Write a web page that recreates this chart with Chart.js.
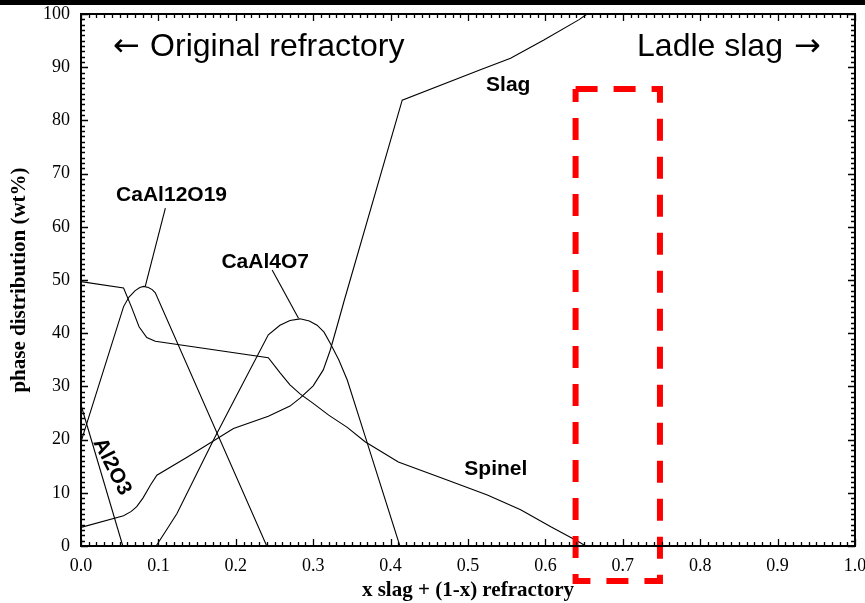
<!DOCTYPE html>
<html>
<head>
<meta charset="utf-8">
<title>Phase distribution</title>
<script src="https://cdn.jsdelivr.net/npm/chart.js@4/dist/chart.umd.min.js"></script>
<style>
  html, body { margin: 0; padding: 0; background: #fff; }
  #wrap { position: relative; width: 865px; height: 603px; }
  #band { position: absolute; left: 0; top: 0; width: 865px; height: 5px; background: #000; }
</style>
</head>
<body>
<div id="wrap">
  <canvas id="chart" width="865" height="603"></canvas>
  <div id="band"></div>
</div>
<script>
// Phase fractions (wt%) versus slag fraction x
const al2o3X = [0, 0.054];
const al2o3Y = [26.5, 0];

const cal12X = [0, 0.055, 0.062, 0.070, 0.076, 0.081, 0.087, 0.092, 0.096, 0.240];
const cal12Y = [19.6, 45.0, 46.8, 48.0, 48.6, 48.8, 48.6, 48.2, 47.6, 0];

const spinelX = [0, 0.055, 0.065, 0.075, 0.085, 0.096, 0.242, 0.257, 0.270, 0.283, 0.300, 0.320, 0.344, 0.367, 0.410, 0.473, 0.525, 0.568, 0.607, 0.643, 0.652];
const spinelY = [49.7, 48.5, 45.0, 41.2, 39.2, 38.5, 35.4, 32.6, 30.3, 28.6, 26.8, 24.6, 22.3, 19.6, 15.8, 12.4, 9.6, 6.8, 3.6, 0.8, 0];

const cal4X = [0.097, 0.110, 0.124, 0.150, 0.171, 0.200, 0.242, 0.257, 0.270, 0.283, 0.295, 0.305, 0.314, 0.322, 0.333, 0.344, 0.370, 0.412];
const cal4Y = [0, 2.9, 6.1, 13.7, 19.9, 28.0, 39.7, 41.5, 42.4, 42.7, 42.3, 41.5, 40.2, 38.1, 35.0, 31.2, 19.3, 0];

const slagX = [0, 0.055, 0.065, 0.072, 0.080, 0.090, 0.098, 0.137, 0.197, 0.242, 0.270, 0.283, 0.300, 0.313, 0.322, 0.331, 0.340, 0.415, 0.516, 0.555, 0.598, 0.643, 0.654];
const slagY = [3.5, 5.7, 6.5, 7.4, 9.0, 11.5, 13.3, 16.7, 22.1, 24.4, 26.3, 27.8, 30.1, 33.1, 36.8, 41.4, 46.1, 83.8, 89.5, 91.7, 95.1, 98.9, 100];

// Leader lines from phase names to their curves
const leader12X = [0.109, 0.083];
const leader12Y = [63.5, 48.8];
const leader4X = [0.247, 0.281];
const leader4Y = [51.9, 42.8];

// Highlighted composition window
const boxX = [0.639, 0.748, 0.748, 0.639, 0.639];
const boxY = [85.9, 85.9, -6.6, -6.6, 85.9];

// Axis ranges and tick steps
const xRange = [0, 1];
const yRange = [0, 100];
const xStep = 0.1;
const yStep = 10;

// Curve labels (anchor in data units)
const phaseNames = ['CaAl12O19', 'CaAl4O7', 'Slag', 'Spinel', 'Al2O3'];
const phaseLabelX = [0.117, 0.238, 0.552, 0.536, 0.040];
const phaseLabelY = [64.9, 52.2, 85.6, 13.3, 14.9];

function pts(xs, ys) { return xs.map((x, i) => ({ x: x, y: ys[i] })); }

function curve(label, xs, ys) {
  return {
    label: label,
    data: pts(xs, ys),
    borderColor: '#000',
    borderWidth: 1.1,
    pointRadius: 0,
    tension: 0,
    fill: false,
    order: 1
  };
}

const frameTicks = {
  id: 'frameTicks',
  afterDatasetsDraw(chart) {
    const { ctx, chartArea: a, scales: { x, y } } = chart;
    ctx.save();
    ctx.strokeStyle = '#000';
    ctx.lineWidth = 1.3;
    ctx.beginPath();
    for (let i = 0; i <= 100; i++) {
      const px = Math.round(x.getPixelForValue(i / 100)) + 0.5;
      const len = i % 10 === 0 ? 7 : 4;
      ctx.moveTo(px, a.bottom); ctx.lineTo(px, a.bottom - len);
      ctx.moveTo(px, a.top); ctx.lineTo(px, a.top + len);
    }
    for (let v = 0; v <= 100; v++) {
      const py = Math.round(y.getPixelForValue(v)) + 0.5;
      const len = v % 10 === 0 ? 7 : 4;
      ctx.moveTo(a.left, py); ctx.lineTo(a.left + len, py);
      ctx.moveTo(a.right, py); ctx.lineTo(a.right - len, py);
    }
    ctx.stroke();
    ctx.lineWidth = 2;
    ctx.strokeRect(a.left, a.top, a.right - a.left, a.bottom - a.top);
    ctx.restore();
  }
};

const phaseLabels = {
  id: 'phaseLabels',
  afterDatasetsDraw(chart) {
    const { ctx, scales: { x, y } } = chart;
    ctx.save();
    ctx.fillStyle = '#000';
    ctx.font = 'bold 21px "Liberation Sans", Arial, sans-serif';
    phaseNames.forEach((name, i) => {
      const px = x.getPixelForValue(phaseLabelX[i]);
      const py = y.getPixelForValue(phaseLabelY[i]);
      ctx.save();
      ctx.translate(px, py);
      if (name === 'Al2O3') {
        ctx.rotate(63 * Math.PI / 180);
        ctx.textAlign = 'center';
        ctx.textBaseline = 'middle';
      } else {
        ctx.textAlign = 'center';
        ctx.textBaseline = 'alphabetic';
      }
      ctx.fillText(name, 0, 0);
      ctx.restore();
    });
    // direction notes along the top
    const base = y.getPixelForValue(92.1);
    ctx.textBaseline = 'alphabetic';
    ctx.textAlign = 'left';
    ctx.font = '32px "DejaVu Sans", sans-serif';
    ctx.fillText('\u2190', x.getPixelForValue(0.0414), base);
    ctx.fillText('\u2192', x.getPixelForValue(0.9211), base);
    ctx.font = '32px "Liberation Sans", Arial, sans-serif';
    ctx.fillText('Original refractory', x.getPixelForValue(0.0893), base);
    ctx.textAlign = 'right';
    ctx.fillText('Ladle slag', x.getPixelForValue(0.9069), base);
    ctx.restore();
  }
};

new Chart(document.getElementById('chart'), {
  type: 'line',
  data: {
    datasets: [
      {
        label: 'window',
        data: pts(boxX, boxY),
        borderColor: '#ff0000',
        borderWidth: 6,
        borderDash: [22, 16],
        borderCapStyle: 'butt',
        borderJoinStyle: 'miter',
        pointRadius: 0,
        tension: 0,
        fill: false,
        clip: false,
        order: 0
      },
      curve('Al2O3', al2o3X, al2o3Y),
      curve('CaAl12O19', cal12X, cal12Y),
      curve('Spinel', spinelX, spinelY),
      curve('CaAl4O7', cal4X, cal4Y),
      curve('Slag', slagX, slagY),
      curve('leader CaAl12O19', leader12X, leader12Y),
      curve('leader CaAl4O7', leader4X, leader4Y)
    ]
  },
  options: {
    responsive: false,
    devicePixelRatio: 1,
    animation: false,
    layout: { padding: { top: 14, right: 10, bottom: 0, left: 0 } },
    plugins: {
      legend: { display: false },
      tooltip: { enabled: false }
    },
    scales: {
      x: {
        type: 'linear',
        min: xRange[0],
        max: xRange[1],
        ticks: {
          stepSize: xStep,
          autoSkip: false,
          maxRotation: 0,
          padding: 9,
          color: '#000',
          font: { family: '"Liberation Serif", "Times New Roman", serif', size: 18 },
          callback: v => Number(v).toFixed(1)
        },
        grid: { display: false, drawTicks: false },
        border: { display: false },
        title: {
          display: true,
          text: 'x slag + (1-x) refractory',
          color: '#000',
          font: { family: '"Liberation Serif", "Times New Roman", serif', size: 21, weight: 'bold' },
          padding: { top: 0, bottom: 0 }
        },
        afterFit(s) { s.height = 57; s.paddingLeft = 0; s.paddingRight = 0; }
      },
      y: {
        type: 'linear',
        min: yRange[0],
        max: yRange[1],
        ticks: {
          stepSize: yStep,
          padding: 11,
          color: '#000',
          font: { family: '"Liberation Serif", "Times New Roman", serif', size: 18 }
        },
        grid: { display: false, drawTicks: false },
        border: { display: false },
        title: {
          display: true,
          text: 'phase distribution (wt%)',
          color: '#000',
          font: { family: '"Liberation Serif", "Times New Roman", serif', size: 21, weight: 'bold' },
          padding: { top: 7, bottom: 0 }
        },
        afterFit(s) { s.width = 81; s.paddingTop = 0; s.paddingBottom = 0; }
      }
    }
  },
  plugins: [frameTicks, phaseLabels]
});
</script>
</body>
</html>
